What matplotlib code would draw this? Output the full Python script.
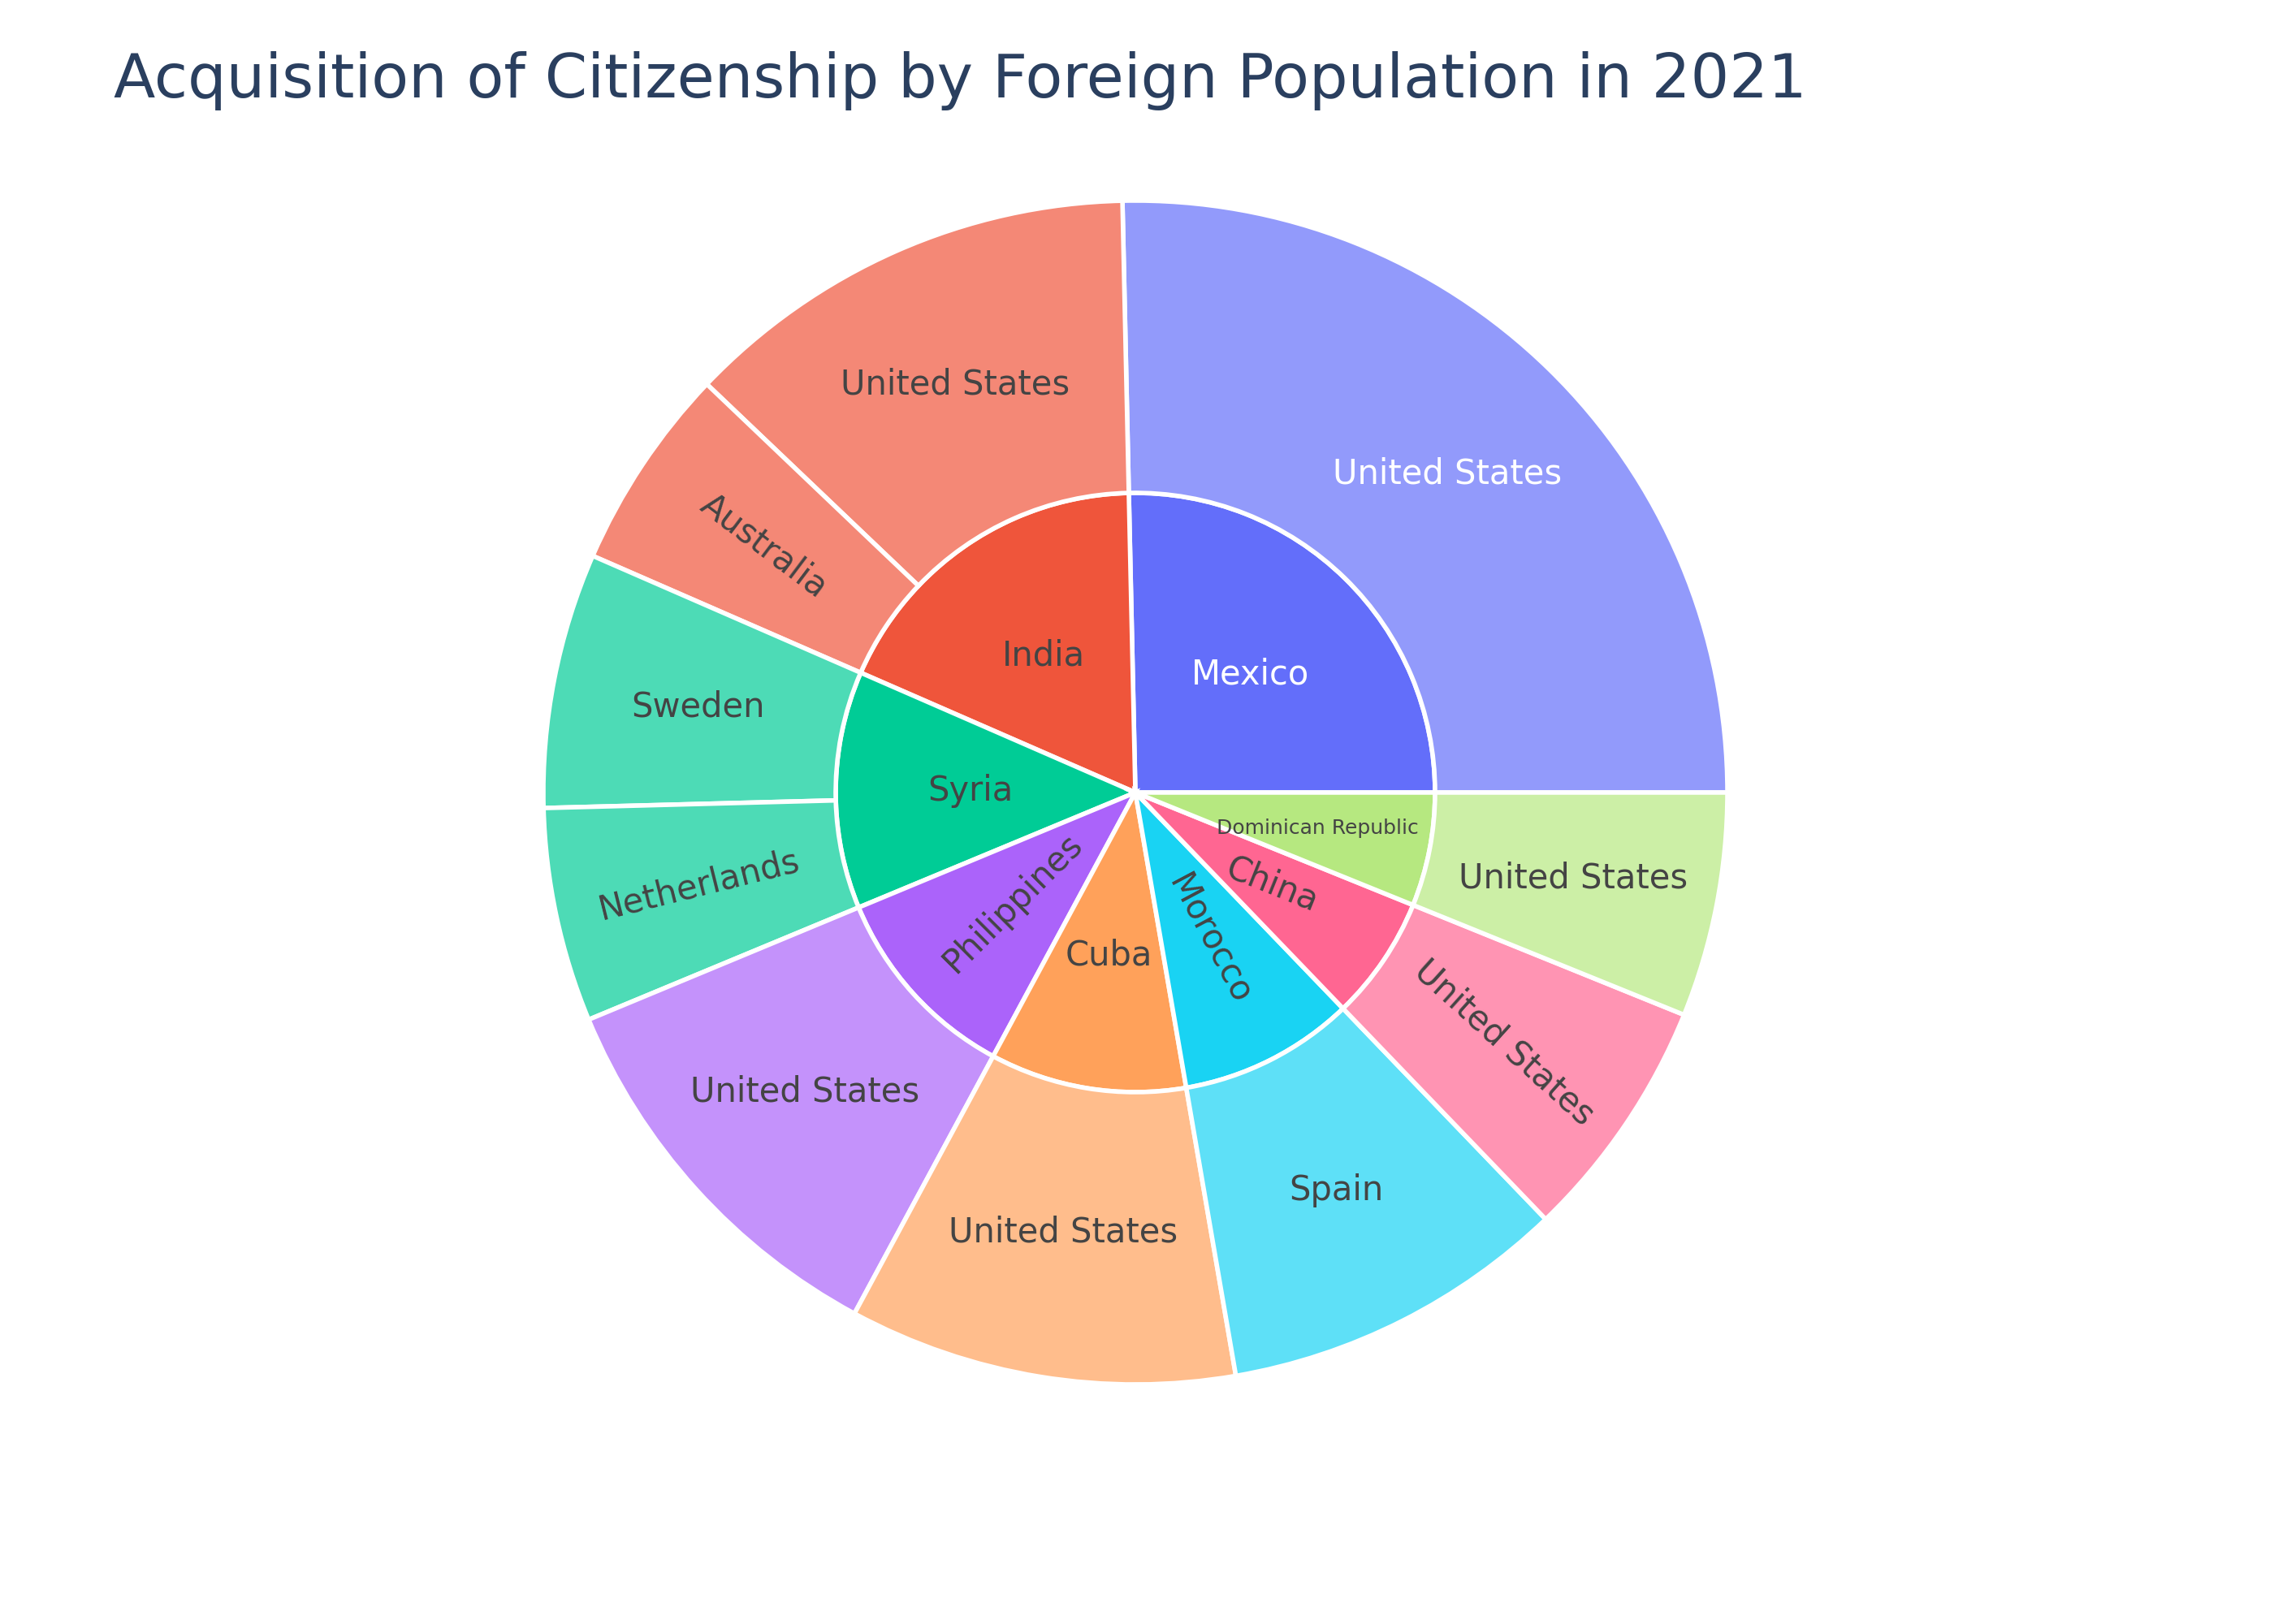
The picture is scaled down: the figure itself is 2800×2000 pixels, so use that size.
import matplotlib.pyplot as plt
from matplotlib.patches import Wedge
import numpy as np

origins = ["Mexico", "India", "Syria", "Philippines", "Cuba", "Morocco", "China", "Dominican Republic"]
colors = ["#636efa", "#EF553B", "#00cc96", "#ab63fa", "#FFA15A", "#19d3f3", "#FF6692", "#B6E880"]
dest = [["United States"], ["United States", "Australia"], ["Sweden", "Netherlands"],
        ["United States"], ["United States"], ["Spain"], ["United States"], ["United States"]]
values = [[91], [45, 20], [25, 21], [39], [38], [34], [24], [22]]

# label rotations (degrees), plotly-like
inner_rot = {"Philippines": 45, "Morocco": -62, "China": -22}
outer_rot = {"Australia": -37, "Netherlands": 14, (6, 0): -42}

def lighten(c, a=0.7):
    rgb = np.array([int(c[i:i + 2], 16) for i in (1, 3, 5)]) / 255
    return tuple(rgb * a + (1 - a))

fig = plt.figure(figsize=(14, 10), dpi=200)
ax = fig.add_axes([0, 0, 1, 1])
ax.set_xlim(0, 2800)
ax.set_ylim(0, 2000)
ax.axis("off")

cx, cy = 1398, 1024
r_in, r_out = 369, 729
total = sum(sum(v) for v in values)
start = 0.0
for i, (o, c) in enumerate(zip(origins, colors)):
    span = sum(values[i]) / total * 360
    ax.add_patch(Wedge((cx, cy), r_in, start, start + span, facecolor=c, edgecolor="white", lw=2))
    mid = np.radians(start + span / 2)
    tc = "white" if o == "Mexico" else "#444444"
    fs = 9 if o == "Dominican Republic" else 15
    rr = r_in * (0.55 if o != "Dominican Republic" else 0.62)
    ax.text(cx + rr * np.cos(mid), cy + rr * np.sin(mid), o, ha="center", va="center",
            color=tc, fontsize=fs, rotation=inner_rot.get(o, 0), rotation_mode="anchor")
    s2 = start
    for j, (d, v) in enumerate(zip(dest[i], values[i])):
        sp = v / total * 360
        ax.add_patch(Wedge((cx, cy), r_out, s2, s2 + sp, width=r_out - r_in,
                           facecolor=lighten(c), edgecolor="white", lw=2))
        m = np.radians(s2 + sp / 2)
        rr = (r_in + r_out) / 2
        rot = outer_rot.get((i, j), outer_rot.get(d, 0))
        ax.text(cx + rr * np.cos(m), cy + rr * np.sin(m), d, ha="center", va="center",
                color=tc, fontsize=15, rotation=rot, rotation_mode="anchor")
        s2 += sp
    start += span

fig.text(0.05, 0.95, "Acquisition of Citizenship by Foreign Population in 2021",
         fontsize=27, color="#2a3f5f", va="center")
fig.savefig("out.png")
